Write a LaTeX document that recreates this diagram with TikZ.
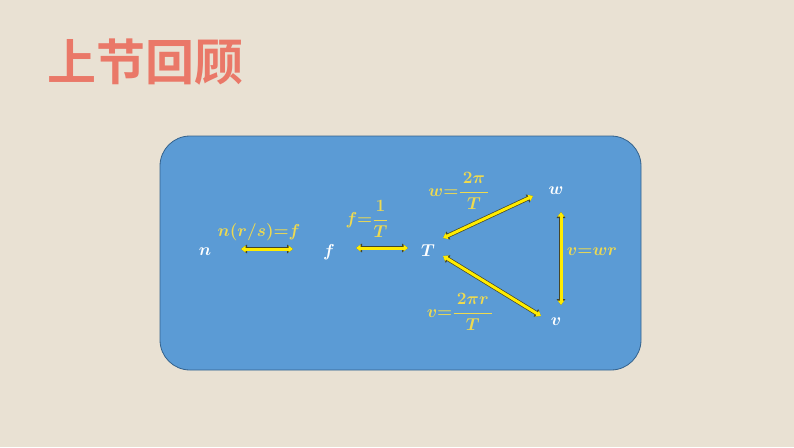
\documentclass[tikz,border=0pt]{standalone}
\usepackage{amsmath}
\usepackage{fontspec}
\usetikzlibrary{arrows.meta,calc}
\newfontfamily\cjk{Noto Sans CJK SC}[BoldFont={Noto Sans CJK SC Bold}]
\definecolor{paper}{RGB}{233,225,211}
\definecolor{titlered}{RGB}{234,120,104}
\definecolor{boxblue}{RGB}{91,155,213}
\definecolor{boxedge}{RGB}{52,98,140}
\definecolor{labyellow}{RGB}{238,218,80}
\definecolor{arrowyellow}{RGB}{255,236,0}
\definecolor{arrowedge}{RGB}{70,70,40}
\begin{document}
\begin{tikzpicture}[x=1pt,y=-1pt,
  var/.style={text=white, font=\fontsize{18}{21}\selectfont\boldmath, inner sep=1pt},
  lab/.style={text=labyellow, font=\fontsize{16}{19}\selectfont\boldmath, inner sep=0pt},
  yarrow/.style={draw=arrowyellow, line width=3pt,
    {Triangle[length=4.5pt,width=6.5pt]}-{Triangle[length=4.5pt,width=6.5pt]},
    preaction={draw=arrowedge, line width=4.4pt,
      {Triangle[length=6pt,width=8.5pt]}-{Triangle[length=6pt,width=8.5pt]}}}]
\fill[paper] (0,0) rectangle (794,447);
\useasboundingbox (0,0) rectangle (794,447);
\node[text=titlered, font=\cjk\bfseries\fontsize{49}{53}\selectfont] (title) at (145,62) {上节回顾};
\draw[fill=boxblue, draw=boxedge, line width=0.8pt, rounded corners=30pt] (160,136) rectangle (641,370);
% variables
\node[var] (n) at (205,252) {$n$};
\node[var] (f) at (329,252) {$f$};
\node[var] (T) at (428,251) {$T$};
\node[var] (w) at (556,191) {$w$};
\node[var] (v) at (556,322) {$v$};
% labels
\node[lab] (lnf) at (259,232) {$n(r/s){=}f$};
\node[lab] (lft) at (367,219) {$f{=}\dfrac{1}{T}$};
\node[lab] (ltw) at (459,191) {$w{=}\dfrac{\,2\pi\,}{T}$};
\node[lab] (lwv) at (592,252) {$v{=}wr$};
\node[lab] (ltv) at (460,312) {$v{=}\dfrac{\,2\pi r\,}{T}$};
% arrows
\draw[yarrow] ($(n)+(36,-3)$) -- ($(f)+(-36,-3)$);
\draw[yarrow] ($(f)+(27,-4)$) -- ($(T)+(-20,-3)$);
\draw[yarrow] ($(T)+(15,-13)$) -- ($(w)+(-23,5)$);
\draw[yarrow] ($(T)+(15,5)$) -- ($(v)+(-15,-6)$);
\draw[yarrow] ($(w)+(5,21)$) -- ($(v)+(5,-17)$);
\end{tikzpicture}
\end{document}
